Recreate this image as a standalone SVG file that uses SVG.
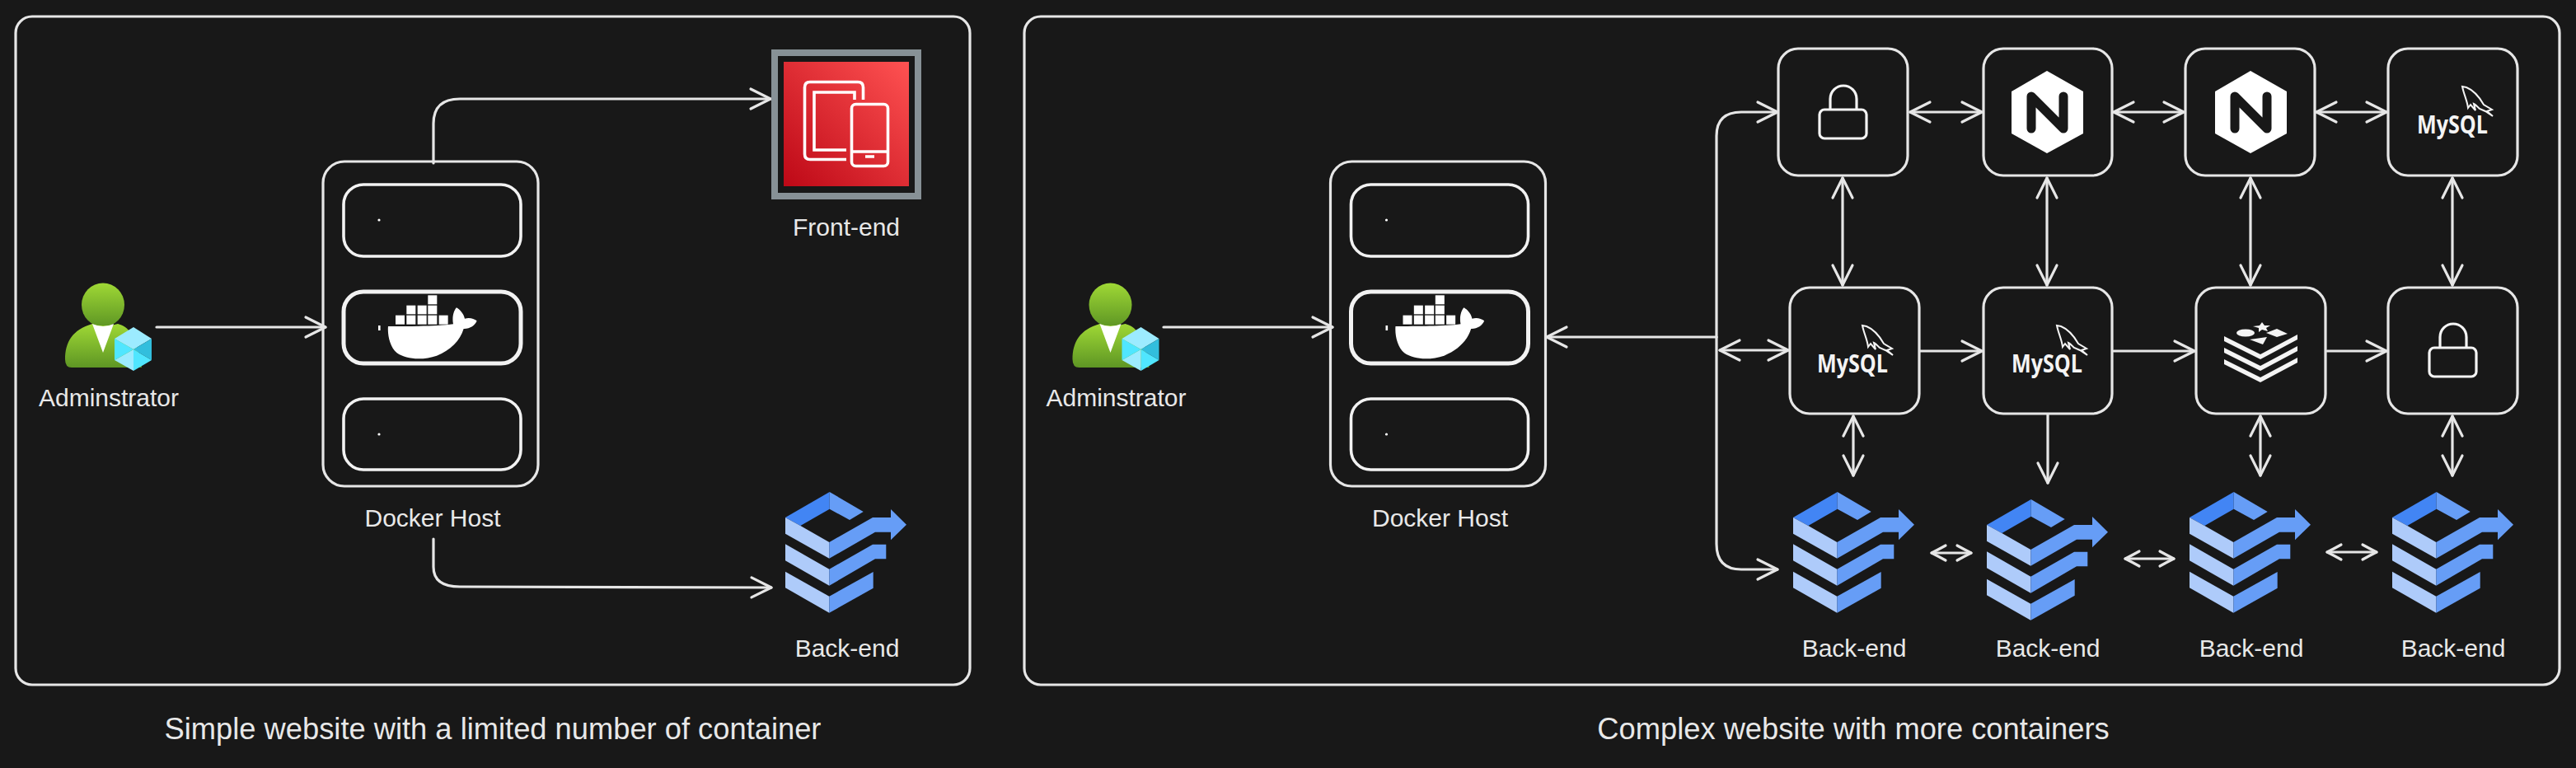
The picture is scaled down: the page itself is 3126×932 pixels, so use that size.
<svg xmlns="http://www.w3.org/2000/svg" xmlns:xlink="http://www.w3.org/1999/xlink" width="3126" height="932" viewBox="0 0 3126 932">
<style>
.bx{fill:none;stroke:#e6e6e6;stroke-width:3.2}
.in{fill:none;stroke:#f2f2f2;stroke-width:3.6}
.ln{fill:none;stroke:#e6e6e6;stroke-width:3.2;stroke-linecap:round}
.ar{marker-end:url(#h)}
.da{marker-end:url(#h);marker-start:url(#h)}
.ds{marker-end:url(#s);marker-start:url(#s)}
.t{font-family:"Liberation Sans",Arial,sans-serif;font-size:30px;fill:#e8e8e8;text-anchor:middle}
.c{font-size:36.3px}
.lk{fill:none;stroke:#f4f4f4;stroke-width:3.2}
.my{font-family:"Open Sans","Liberation Sans",sans-serif;font-weight:700;font-size:30px;fill:#f4f4f4}
.ic{fill:none;stroke:#fff;stroke-width:3.6}
</style>
<defs>
<marker id="h" markerUnits="userSpaceOnUse" markerWidth="40" markerHeight="40" refX="0" refY="0" viewBox="-30 -20 40 40" orient="auto-start-reverse">
<path d="M-24,-12 L0,0 L-24,12" fill="none" stroke="#e6e6e6" stroke-width="3.2" stroke-linecap="round" stroke-linejoin="round"/>
</marker>
<marker id="s" markerUnits="userSpaceOnUse" markerWidth="30" markerHeight="30" refX="0" refY="0" viewBox="-22 -15 30 30" orient="auto-start-reverse">
<path d="M-17,-9 Q-8,-4 0,0 Q-8,4 -17,9" fill="none" stroke="#e6e6e6" stroke-width="3.2" stroke-linecap="round" stroke-linejoin="round"/>
</marker>
<linearGradient id="rd" x1="0" y1="1" x2="1" y2="0"><stop offset="0" stop-color="#BD0816"/><stop offset="1" stop-color="#FF5252"/></linearGradient>
<linearGradient id="gr" x1="0" y1="0" x2="0" y2="1"><stop offset="0" stop-color="#9fd835"/><stop offset="1" stop-color="#5e9624"/></linearGradient>
<g id="host">
<rect class="bx" x="392" y="196" width="261" height="394" rx="26"/>
<rect class="in" x="417" y="224" width="215" height="87" rx="24"/>
<rect class="in" style="stroke-width:5" x="417" y="354" width="215" height="87" rx="24"/>
<rect class="in" x="417" y="484" width="215" height="86" rx="24"/>
<circle cx="460" cy="267" r="1.6" fill="#fff"/><rect x="459" y="395" width="2.6" height="6" fill="#fff"/><circle cx="460" cy="527" r="1.6" fill="#fff"/>
<g transform="translate(390 190) scale(.3333)" fill="#fff">
<path d="M243 618 C320 618 420 618 480 610 C475 585 482 560 492 550 C505 558 518 572 522 590 C540 585 555 590 566 598 C560 615 540 628 518 627 C505 670 470 705 420 725 C370 742 310 740 275 715 C250 695 240 650 243 618Z"/>
<rect x="270" y="578" width="33" height="33"/><rect x="310" y="578" width="33" height="33"/><rect x="350" y="578" width="33" height="33"/><rect x="388" y="578" width="33" height="33"/><rect x="428" y="578" width="33" height="33"/>
<rect x="310" y="542" width="33" height="32"/><rect x="350" y="542" width="33" height="32"/><rect x="388" y="542" width="33" height="32"/>
<rect x="388" y="505" width="33" height="33"/>
</g>
<text class="t" x="525" y="639">Docker Host</text>
</g>
<g id="admin">
<ellipse cx="125" cy="370" rx="26" ry="26.5" fill="url(#gr)"/>
<path d="M79 436 C79 415 88 400 112 393 C118 396 132 396 143 393 C155 396 165 405 172 446 L87 446 Q79 446 79 436Z" fill="url(#gr)"/>
<path d="M112 393 Q125 399 138 393 L125 428Z" fill="#fff"/>
<path d="M162 397 L184 411 L162 424 L139 411Z" fill="#9cebff"/>
<path d="M184 411 L184 437 L162 424Z" fill="#32bedd"/>
<path d="M184 437 L162 450 L162 424Z" fill="#50e6ff"/>
<path d="M162 450 L139 437 L162 424Z" fill="#9cebff"/>
<path d="M139 437 L139 411 L162 424Z" fill="#50e6ff"/>
<text class="t" x="132" y="493">Adminstrator</text>
</g>
<g id="bk">
<polygon points="0,31 53.7,0 53.7,20.7 18.3,41" fill="#4285F4"/>
<polygon points="53.7,0 94.7,24 78,34 53.7,20.7" fill="#669DF6"/>
<polygon points="0,31 18.3,41 53.3,61 53.3,80.7 0,50.7" fill="#AECBFA"/>
<polygon points="53.3,61 106,31 128,31 128,21 147,39.7 128,58.3 128,48.7 109,48.7 53.3,80.7" fill="#669DF6"/>
<polygon points="0,63.3 53.3,93.7 53.3,113.7 0,83.3" fill="#AECBFA"/>
<polygon points="53.3,93.7 106,63.7 122.3,63.7 122.3,81.3 109,81.3 53.3,113.7" fill="#669DF6"/>
<polygon points="0,96.7 53.3,126.7 53.3,146.7 0,116.3" fill="#AECBFA"/>
<polygon points="53.3,126.7 106.7,97 106.7,116.7 53.3,146.7" fill="#669DF6"/>
</g>
<g id="lock">
<path class="lk" d="M2221 133 V120 A16 16 0 0 1 2253 120 V133"/>
<rect class="lk" x="2208" y="133" width="57" height="35" rx="6"/>
</g>
<g id="ngx">
<polygon points="2484,86 2528,111 2528,162 2484,186 2441,162 2441,111" fill="#fff"/>
<path d="M2465 156 V117 L2504 156 V117" fill="none" stroke="#181818" stroke-width="11" stroke-linecap="round" stroke-linejoin="round"/>
</g>
<g id="mysql">
<text class="my" x="2205" y="452" textLength="86" lengthAdjust="spacingAndGlyphs">MySQL</text>
<path d="M2260 395 L2265 396 C2275 400 2282 410 2286 417 L2296 423 L2290 425 L2297 431 L2288 425 L2281 422 C2278 419 2276 417 2274 416 L2276 424 L2270 417 L2267 421 C2266 412 2262 405 2260 395Z" fill="none" stroke="#f4f4f4" stroke-width="2"/>
</g>
</defs>
<rect width="3126" height="932" fill="#181818"/>
<rect class="bx" x="19" y="20" width="1158" height="811" rx="20"/>
<rect class="bx" x="1243" y="20" width="1863" height="811" rx="20"/>
<text class="t c" x="598" y="897">Simple website with a limited number of container</text>
<text class="t c" x="2249" y="897">Complex website with more containers</text>

<g id="connectors">
<path class="ln ar" d="M190 397 H395"/>
<path class="ln ar" d="M526 198 V150 Q526 120 558 120 H935"/>
<path class="ln ar" d="M526 654 V688 Q526 712 558 712 L936 713"/>
<path class="ln ar" d="M1412 397 H1617"/>
<path class="ln ar" d="M2083 409 H1877"/>
<path class="ln ar" d="M2083 409 V165 Q2083 136 2113 136 H2157"/>
<path class="ln ar" d="M2083 409 V660 Q2083 691 2113 691 H2157"/>
<path class="ln da" d="M2087 425 H2170"/>
<path class="ln da" d="M2318 136 H2405"/>
<path class="ln da" d="M2565 136 H2650"/>
<path class="ln da" d="M2811 136 H2896"/>
<path class="ln da" d="M2236 216 V346"/>
<path class="ln da" d="M2484 216 V346"/>
<path class="ln da" d="M2731 216 V346"/>
<path class="ln da" d="M2976 216 V346"/>
<path class="ln ar" d="M2330 426 H2405"/>
<path class="ln ar" d="M2565 426 H2663"/>
<path class="ln ar" d="M2824 426 H2896"/>
<path class="ln da" d="M2249 505 V577"/>
<path class="ln ar" d="M2485 503 V586"/>
<path class="ln da" d="M2743 505 V577"/>
<path class="ln da" d="M2976 505 V577"/>
<path class="ln ds" d="M2344 671 H2392"/>
<path class="ln ds" d="M2579 678 H2638"/>
<path class="ln ds" d="M2824 670 H2884"/>
</g>

<g id="admin-1"><use href="#admin"/></g>
<g id="docker-host-1"><use href="#host"/></g>
<g id="front-end">
<rect x="940" y="64" width="174" height="174" fill="none" stroke="#879196" stroke-width="8"/>
<rect x="951" y="75" width="152" height="151" fill="url(#rd)"/>
<path class="ic" d="M1047.500 121 V106 Q1047.500 99.500 1041 99.500 H983 Q976.500 99.500 976.500 106 V187 Q976.500 193.500 983 193.500 H1027" />
<path class="ic" d="M1037 121 V112 H988 V182 H1027"/>
<rect class="ic" x="1033.500" y="126.500" width="44" height="75" rx="5"/>
<path class="ic" d="M1033 184 H1078 M1050 190 H1061"/>
<text class="t" x="1027" y="286">Front-end</text>
</g>
<g id="back-end-1"><use href="#bk" x="953" y="597"/><text class="t" x="1028" y="797">Back-end</text></g>

<g id="admin-2"><use href="#admin" x="1222.5"/></g>
<g id="docker-host-2"><use href="#host" x="1222.5"/></g>

<g id="lb-1"><rect class="bx" x="2158" y="59" width="157" height="154" rx="24"/><use href="#lock"/></g>
<g id="nginx-1"><rect class="bx" x="2407" y="59" width="156" height="154" rx="24"/><use href="#ngx"/></g>
<g id="nginx-2"><rect class="bx" x="2652" y="59" width="157" height="154" rx="24"/><use href="#ngx" x="247"/></g>
<g id="mysql-1"><rect class="bx" x="2898" y="59" width="157" height="154" rx="24"/><use href="#mysql" x="728" y="-290"/></g>

<g id="mysql-2"><rect class="bx" x="2172" y="349" width="157" height="153" rx="24"/><use href="#mysql"/></g>
<g id="mysql-3"><rect class="bx" x="2407" y="349" width="156" height="153" rx="24"/><use href="#mysql" x="236"/></g>
<g id="redis">
<rect class="bx" x="2665" y="349" width="157" height="153" rx="24"/>
<g fill="#f4f4f4">
<polygon points="2699,408 2743,430 2788,406 2788,412 2743,436 2699,414"/>
<polygon points="2699,422 2743,444 2788,420 2788,426 2743,450 2699,428"/>
<polygon points="2699,436 2743,458 2788,434 2788,440 2743,464 2699,442"/>
<ellipse cx="2725" cy="404" rx="11" ry="4.500"/>
<polygon points="2745,391 2748,395 2755,395 2750,398 2752,402 2745,400 2741,403 2741,398 2734,396 2742,395"/>
<polygon points="2750,404 2763,399 2776,405 2763,409"/>
<polygon points="2730,412 2751,409 2746,418"/>
</g>
</g>
<g id="lb-2"><rect class="bx" x="2898" y="349" width="157" height="153" rx="24"/><use href="#lock" x="740" y="289"/></g>

<g id="back-end-2"><use href="#bk" x="2176" y="597"/><text class="t" x="2250" y="797">Back-end</text></g>
<g id="back-end-3"><use href="#bk" x="2411" y="606"/><text class="t" x="2485" y="797">Back-end</text></g>
<g id="back-end-4"><use href="#bk" x="2657" y="597"/><text class="t" x="2732" y="797">Back-end</text></g>
<g id="back-end-5"><use href="#bk" x="2903" y="597"/><text class="t" x="2977" y="797">Back-end</text></g>
</svg>
